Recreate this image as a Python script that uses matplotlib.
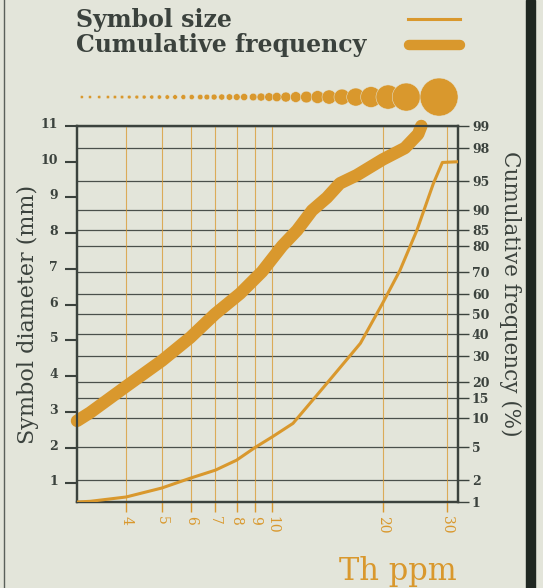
import numpy as np
import matplotlib
matplotlib.use("Agg")
import matplotlib.pyplot as plt
from matplotlib.lines import Line2D
from matplotlib.patches import Rectangle
from matplotlib.ticker import FixedLocator, NullLocator, FixedFormatter
import matplotlib.transforms as mtransforms
from statistics import NormalDist

# symbol size curve (left axis, mm) vs Th ppm
th_size = [2.95, 3.2, 4, 5, 6, 7, 8, 9, 10, 11.4, 14.1, 17.4, 20, 22.3, 24.8, 27.5, 29.1, 32.1]
size_mm = [0.48, 0.50, 0.62, 0.87, 1.15, 1.37, 1.65, 2.01, 2.30, 2.68, 3.80, 4.92, 6.04, 6.96, 8.08, 9.39, 9.98, 10.0]

# cumulative frequency curve (right axis, %) vs Th ppm
th_cum = [2.94, 3.19, 4.03, 5.01, 5.98, 6.99, 8.18, 9.39, 10.65, 11.7, 12.85,
          14.1, 15.3, 17.0, 20.0, 23.0, 25.0, 25.5]
cum_pct = [9.3, 11.1, 18.8, 28.2, 38.5, 50.0, 60.0, 70.0, 80.0, 85.0, 90.0,
           92.5, 94.7, 95.7, 97.2, 98.0, 98.7, 99.0]

# symbol row above the plot: Th position and symbol diameter (mm)
row_th = [3.03, 3.19, 3.38, 3.57, 3.73, 3.90, 4.08, 4.28, 4.48, 4.70, 4.93, 5.18, 5.44,
          5.73, 6.04, 6.37, 6.64, 6.95, 7.29, 7.65, 8.01, 8.39, 8.88, 9.33, 9.81, 10.3,
          10.9, 11.6, 12.4, 13.3, 14.3, 15.5, 16.9, 18.6, 20.7, 23.2, 28.5]
row_mm = [0.85, 0.87, 0.89, 0.91, 0.93, 0.95, 0.98, 1.01, 1.04, 1.08, 1.12, 1.17, 1.22,
          1.28, 1.35, 1.42, 1.48, 1.54, 1.6, 1.68, 1.76, 1.86, 1.98, 2.1, 2.25, 2.4,
          2.6, 2.8, 3.05, 3.35, 3.7, 4.15, 4.7, 5.4, 6.3, 7.3, 9.9]

x_ticks = [4, 5, 6, 7, 8, 9, 10, 20, 30]
x_labels = ["4", "5", "6", "7", "8", "9", "10", "20", "30"]
left_ticks = list(range(1, 12))
right_ticks = [1, 2, 5, 10, 15, 20, 30, 40, 50, 60, 70, 80, 85, 90, 95, 98, 99]

bg = '#e3e5da'
orange = '#d9982d'
dark = '#3b423d'
plt.rcParams['font.family'] = ['DejaVu Serif']

fig = plt.figure(figsize=(5.43, 5.88), dpi=100, facecolor=bg)
ax = fig.add_axes([77/543, 1-502/588, 381/543, 376/588])
ax2 = ax.twinx()
ax.set_zorder(2)
ax2.set_zorder(1)
ax.patch.set_visible(False)
ax2.patch.set_visible(False)

# x axis (log)
ax.set_xscale('log')
ax.set_xlim(2.94, 32.1)
ax.xaxis.set_major_locator(FixedLocator(x_ticks))
ax.xaxis.set_major_formatter(FixedFormatter(x_labels))
ax.xaxis.set_minor_locator(NullLocator())
ax.tick_params(axis='x', direction='out', length=7, width=1, color=orange,
               labelcolor=orange, labelsize=10, labelrotation=-90, pad=3)
ax.grid(axis='x', color=orange, lw=0.8, alpha=0.75)

# left axis
ax.set_ylim(0.48, 11)
ax.set_yticks(left_ticks)
ax.tick_params(axis='y', direction='out', length=8.5, width=1.5, color=dark,
               labelcolor=dark, labelsize=9, pad=5)
for lab in ax.get_yticklabels():
    lab.set_fontweight('bold')
    lab.set_transform(lab.get_transform() + mtransforms.ScaledTranslation(0, 0.03, fig.dpi_scale_trans))

# right axis: probability scale
nd = NormalDist()
def fwd(p):
    p = np.clip(np.asarray(p, dtype=float) / 100.0, 1e-9, 1 - 1e-9)
    return np.vectorize(nd.inv_cdf, otypes=[float])(p)
def inv(z):
    return np.vectorize(nd.cdf, otypes=[float])(np.asarray(z, dtype=float)) * 100.0
ax2.set_yscale('function', functions=(fwd, inv))
ax2.set_ylim(1, 99)
ax2.yaxis.set_major_locator(FixedLocator(right_ticks))
ax2.yaxis.set_major_formatter(FixedFormatter([str(t) for t in right_ticks]))
ax2.yaxis.set_minor_locator(NullLocator())
ax2.tick_params(axis='y', direction='out', length=8, width=1, color=dark,
                labelcolor=dark, labelsize=9, pad=2)
for lab in ax2.get_yticklabels():
    lab.set_fontweight('bold')
ax2.grid(axis='y', color='#4a504b', lw=0.9)

for a in (ax, ax2):
    for s in a.spines.values():
        s.set_color(dark)
        s.set_linewidth(1.6)

# curves
ax2.plot(th_cum, cum_pct, color=orange, lw=9, solid_capstyle='round',
         solid_joinstyle='round', clip_on=False, zorder=3)
ax.plot(th_size, size_mm, color=orange, lw=2.2, zorder=3)

# symbol row
trans = mtransforms.blended_transform_factory(ax.transData, ax.transAxes)
d_pt = np.array(row_mm) * 3.84 * 0.72
ax.scatter(row_th, [1.077] * len(row_th), s=d_pt ** 2, transform=trans, color=orange,
           edgecolors=bg, linewidths=0.35, clip_on=False, zorder=5)

# axis titles
ax.set_ylabel('Symbol diameter (mm)', fontsize=16, color=dark, va='center', ha='center')
ax.yaxis.set_label_coords(-0.129, 0.5)
ax2.set_ylabel('Cumulative frequency (%)', fontsize=15.5, color=dark, rotation=270,
               va='center', ha='center')
ax2.yaxis.set_label_coords(1.136, 0.553)
fig.text(457/543, 8/588, 'Th ppm', color=orange, fontsize=22, ha='right', va='baseline')

# legend
fig.text(76/543, 1-20/588, 'Symbol size', fontsize=17, fontweight='bold', color=dark, va='center')
fig.text(76/543, 1-45/588, 'Cumulative frequency', fontsize=17, fontweight='bold', color=dark, va='center')
fig.add_artist(Line2D([408/543, 460/543], [1-19/588, 1-19/588], color=orange, lw=2.2,
                      transform=fig.transFigure))
fig.add_artist(Line2D([409/543, 460/543], [1-45/588, 1-45/588], color=orange, lw=7.5,
                      solid_capstyle='round', transform=fig.transFigure))

# frame
fig.add_artist(Rectangle((526/543, 0), 9/543, 1, transform=fig.transFigure,
                         color='#1f2721', zorder=10))
fig.add_artist(Line2D([3.5/543, 3.5/543], [0, 1], color='#5a605a', lw=1,
                      transform=fig.transFigure))

fig.savefig('out.png', dpi=100, facecolor=bg)
